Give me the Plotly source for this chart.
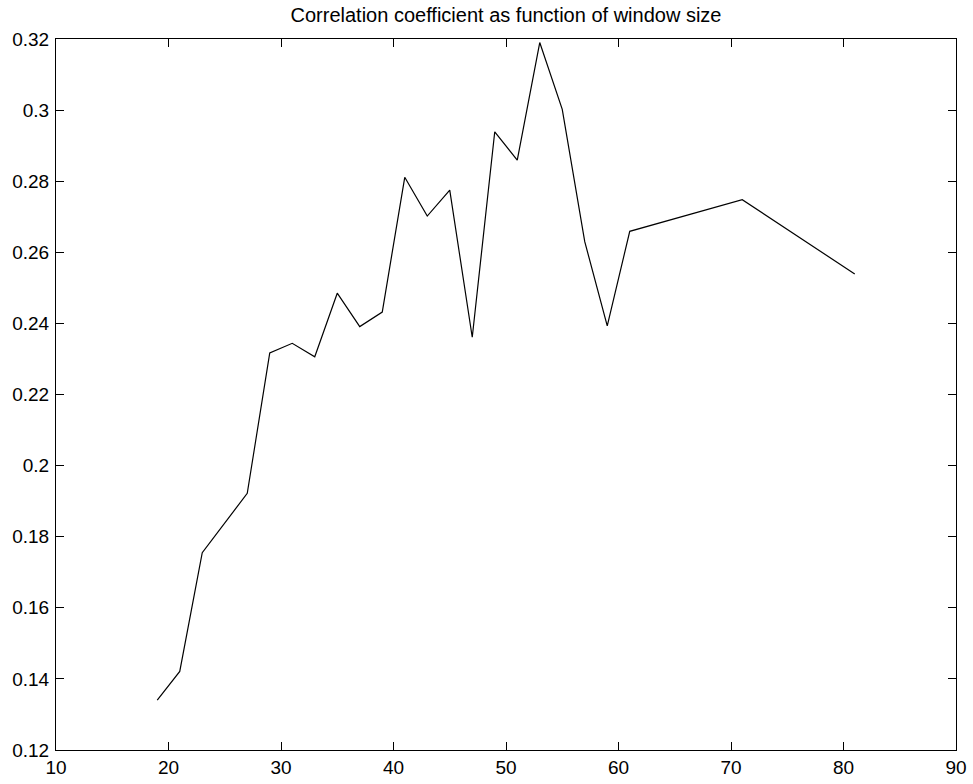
import plotly.graph_objects as go

window_size = [19, 21, 23, 27, 29, 31, 33, 35, 37, 39, 41, 43, 45, 47, 49, 51, 53, 55, 57, 59, 61, 71, 81]
corr_coef = [0.1340, 0.1421, 0.1755, 0.1922, 0.2317, 0.2344, 0.2306, 0.2485, 0.2391, 0.2432,
             0.2811, 0.2702, 0.2775, 0.2361, 0.2939, 0.2859, 0.3190, 0.3002, 0.2630, 0.2393,
             0.2659, 0.2748, 0.2539]

x_ticks = [10, 20, 30, 40, 50, 60, 70, 80, 90]
x_ticktext = ["10", "20", "30", "40", "50", "60", "70", "80", "90"]
y_ticks = [0.12, 0.14, 0.16, 0.18, 0.20, 0.22, 0.24, 0.26, 0.28, 0.30, 0.32]
y_ticktext = ["0.12", "0.14", "0.16", "0.18", "0.2", "0.22", "0.24", "0.26", "0.28", "0.3", "0.32"]

fig = go.Figure()
fig.add_trace(go.Scatter(x=window_size, y=corr_coef, mode="lines",
                         line=dict(color="black", width=1.2), showlegend=False))

axis_common = dict(showgrid=False, zeroline=False, showline=True, linecolor="black", linewidth=1,
                   mirror="ticks", ticks="inside", ticklen=8, tickcolor="black", tickwidth=1,
                   automargin=False,
                   tickfont=dict(family="Liberation Sans, Arial, sans-serif", size=19, color="black"))

fig.update_xaxes(range=[10, 90], tickvals=x_ticks, ticktext=x_ticktext, ticklabelstandoff=0, **axis_common)
fig.update_yaxes(range=[0.12, 0.32], tickvals=y_ticks, ticktext=y_ticktext, ticklabelstandoff=2, **axis_common)

fig.update_layout(
    width=973, height=784,
    margin=dict(l=56, r=17, t=39, b=34, autoexpand=False),
    paper_bgcolor="white", plot_bgcolor="white",
    title=dict(text="Correlation coefficient as function of window size",
               x=0.5, xref="paper", xanchor="center", y=1 - 15 / 784, yanchor="middle",
               font=dict(family="Liberation Sans, Arial, sans-serif", size=20, color="black")),
)

fig.write_html("out.html")
